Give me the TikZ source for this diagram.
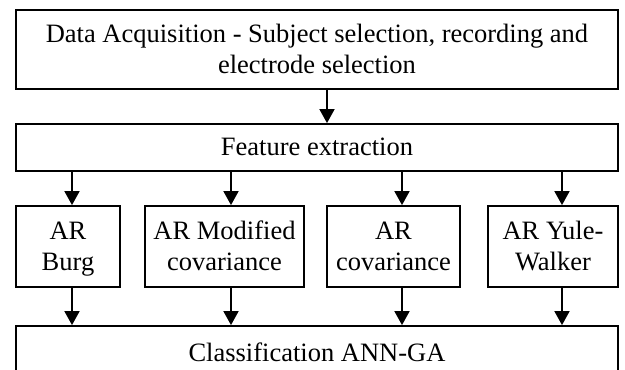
\documentclass[tikz,border=0pt]{standalone}
\usepackage{fontspec}
\setmainfont{Liberation Serif}
\usetikzlibrary{arrows.meta}
\newcommand\lnst{\rule[-7.5pt]{0pt}{31pt}}
\begin{document}
\begin{tikzpicture}[x=1pt,y=-1pt,
  box/.style={draw,line width=1.8pt,inner sep=0pt,align=center,
    font=\fontsize{26.5}{31}\selectfont},
  arr/.style={line width=1.8pt,-{Triangle[width=15pt,length=14pt]}}]
\useasboundingbox (0,0) rectangle (625,370);
\clip (0,0) rectangle (625,370);
\node[box,minimum width=602pt,minimum height=79pt] (top) at (317,49.5)
  {\lnst Data Acquisition - Subject selection, recording and\\\lnst electrode selection};
\node[box,minimum width=602pt,minimum height=47pt] (feat) at (317,147.5)
  {\lnst Feature extraction};
\node[box,minimum width=104pt,minimum height=81pt] (b1) at (68,246.5) {\lnst AR\\\lnst Burg};
\node[box,minimum width=159pt,minimum height=81pt] (b2) at (224.5,246.5) {\lnst AR Modified\\\lnst covariance};
\node[box,minimum width=133pt,minimum height=81pt] (b3) at (393.5,246.5) {\lnst AR\\\lnst covariance};
\node[box,minimum width=130pt,minimum height=81pt] (b4) at (553,246.5) {\lnst AR Yule-\\\lnst Walker};
\node[box,minimum width=602pt,minimum height=54pt] (cls) at (317,353)
  {\lnst Classification ANN-GA};
\draw[arr] ([xshift=10pt]top.south) -- ([xshift=10pt]top.south |- feat.north);
\draw[arr] ([xshift=4pt]b1.north |- feat.south) -- ([xshift=4pt]b1.north);
\draw[arr] ([xshift=6.5pt]b2.north |- feat.south) -- ([xshift=6.5pt]b2.north);
\draw[arr] ([xshift=8.5pt]b3.north |- feat.south) -- ([xshift=8.5pt]b3.north);
\draw[arr] ([xshift=9pt]b4.north |- feat.south) -- ([xshift=9pt]b4.north);
\draw[arr] ([xshift=4pt]b1.south) -- ([xshift=4pt]b1.south |- cls.north);
\draw[arr] ([xshift=6.5pt]b2.south) -- ([xshift=6.5pt]b2.south |- cls.north);
\draw[arr] ([xshift=8.5pt]b3.south) -- ([xshift=8.5pt]b3.south |- cls.north);
\draw[arr] ([xshift=9pt]b4.south) -- ([xshift=9pt]b4.south |- cls.north);
\end{tikzpicture}
\end{document}
